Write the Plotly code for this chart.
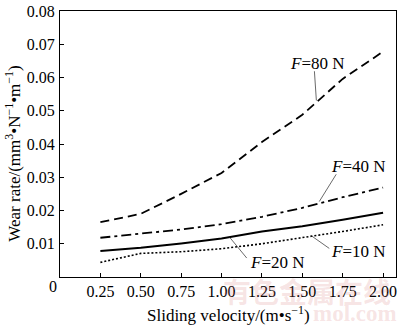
import plotly.graph_objects as go

# ---- data ----
velocity = [0.25, 0.50, 0.75, 1.00, 1.25, 1.50, 1.75, 2.00]
wear_80N = [0.0165, 0.0190, 0.0250, 0.0313, 0.0406, 0.0488, 0.0596, 0.0678]
wear_40N = [0.0118, 0.0131, 0.0143, 0.0159, 0.0181, 0.0208, 0.0240, 0.0269]
wear_20N = [0.0078, 0.0088, 0.0101, 0.0116, 0.0137, 0.0153, 0.0172, 0.0193]
wear_10N = [0.0044, 0.0071, 0.0076, 0.0085, 0.0100, 0.0118, 0.0137, 0.0157]
x_ticks = [0.25, 0.50, 0.75, 1.00, 1.25, 1.50, 1.75, 2.00]
x_ticklabels = ["0.25", "0.50", "0.75", "1.00", "1.25", "1.50", "1.75", "2.00"]
y_ticks = [0.01, 0.02, 0.03, 0.04, 0.05, 0.06, 0.07, 0.08]
y_ticklabels = ["0.01", "0.02", "0.03", "0.04", "0.05", "0.06", "0.07", "0.08"]

FONT = "Liberation Serif"
W, H = 400, 327
ML, MR, MT, MB = 59.5, 3, 4, 49.5

fig = go.Figure()
series = [
    (wear_80N, "F=80 N", "9px,5px", 1.8),
    (wear_40N, "F=40 N", "10px,4px,3px,4px", 1.8),
    (wear_20N, "F=20 N", "solid", 2.0),
    (wear_10N, "F=10 N", "2px,2px", 1.6),
]
for ys, name, dash, w in series:
    fig.add_trace(go.Scatter(x=velocity, y=ys, mode="lines", name=name,
                             line=dict(color="black", width=w, dash=dash),
                             showlegend=False))

# labels with leader lines (data coords)
labels = [
    ("<i>F</i>=80 N", 1.593, 0.0643, (1.575, 0.0619, 1.587, 0.0531)),
    ("<i>F</i>=40 N", 1.846, 0.0332, (1.710, 0.0309, 1.605, 0.0227)),
    ("<i>F</i>=10 N", 1.846, 0.0078, (1.667, 0.0086, 1.556, 0.0124)),
    ("<i>F</i>=20 N", 1.347, 0.0045, (1.156, 0.0057, 1.051, 0.0119)),
]
for txt, tx, ty, (x0, y0, x1, y1) in labels:
    fig.add_annotation(x=tx, y=ty, xref="x", yref="y", text=txt, showarrow=False,
                       font=dict(family=FONT, size=17, color="black"),
                       xanchor="center", yanchor="middle")
    fig.add_shape(type="line", x0=x0, y0=y0, x1=x1, y1=y1, xref="x", yref="y",
                  line=dict(color="#444", width=0.8))

pw = W - ML - MR
ph = H - MT - MB
# watermark (behind)
fig.add_annotation(xref="paper", yref="paper", x=(308 - ML) / pw, y=(H - MB - 292) / ph,
                   text="<b>有色金属在线</b>", showarrow=False,
                   font=dict(family="Noto Sans CJK SC", size=28, color="rgba(215,120,120,0.2)"),
                   xanchor="center", yanchor="middle")
fig.add_annotation(xref="paper", yref="paper", x=(356 - ML) / pw, y=(H - MB - 315) / ph,
                   text="<b>mol.com</b>", showarrow=False,
                   font=dict(family=FONT, size=23, color="rgba(215,120,120,0.2)"),
                   xanchor="center", yanchor="middle")
# axis titles as annotations
fig.add_annotation(xref="paper", yref="paper", x=(229 - ML) / pw, y=(H - MB - 316) / ph,
                   text="Sliding velocity/(m•s<sup>−1</sup>)", showarrow=False,
                   font=dict(family=FONT, size=17, color="black"),
                   xanchor="center", yanchor="middle")
fig.add_annotation(xref="paper", yref="paper", x=(12 - ML) / pw, y=(H - MB - 151) / ph,
                   text="Wear rate/(mm<sup>3</sup>•N<sup>−1</sup>•m<sup>−1</sup>)", showarrow=False,
                   textangle=-90,
                   font=dict(family=FONT, size=17, color="black"),
                   xanchor="center", yanchor="middle")
# origin label
fig.add_annotation(xref="paper", yref="paper", x=(52 - ML) / pw, y=(H - MB - 287) / ph,
                   text="0", showarrow=False,
                   font=dict(family=FONT, size=16, color="black"),
                   xanchor="center", yanchor="middle")

fig.update_xaxes(range=[0, 2.08], tickvals=x_ticks, ticktext=x_ticklabels,
                 ticks="inside", ticklen=4, tickcolor="black", tickwidth=1,
                 showline=True, linecolor="black", linewidth=1, mirror=True,
                 showgrid=False, zeroline=False, ticklabelstandoff=0,
                 tickfont=dict(family=FONT, size=16, color="black"))
fig.update_yaxes(range=[0, 0.08002], tickvals=y_ticks, ticktext=y_ticklabels,
                 ticks="inside", ticklen=4, tickcolor="black", tickwidth=1,
                 showline=True, linecolor="black", linewidth=1, mirror=True,
                 showgrid=False, zeroline=False, ticklabelstandoff=1,
                 ticklabeloverflow="allow",
                 tickfont=dict(family=FONT, size=16, color="black"))
fig.update_layout(width=W, height=H, margin=dict(l=ML, r=MR, t=MT, b=MB),
                  plot_bgcolor="white", paper_bgcolor="white")

fig.write_html("out.html")
